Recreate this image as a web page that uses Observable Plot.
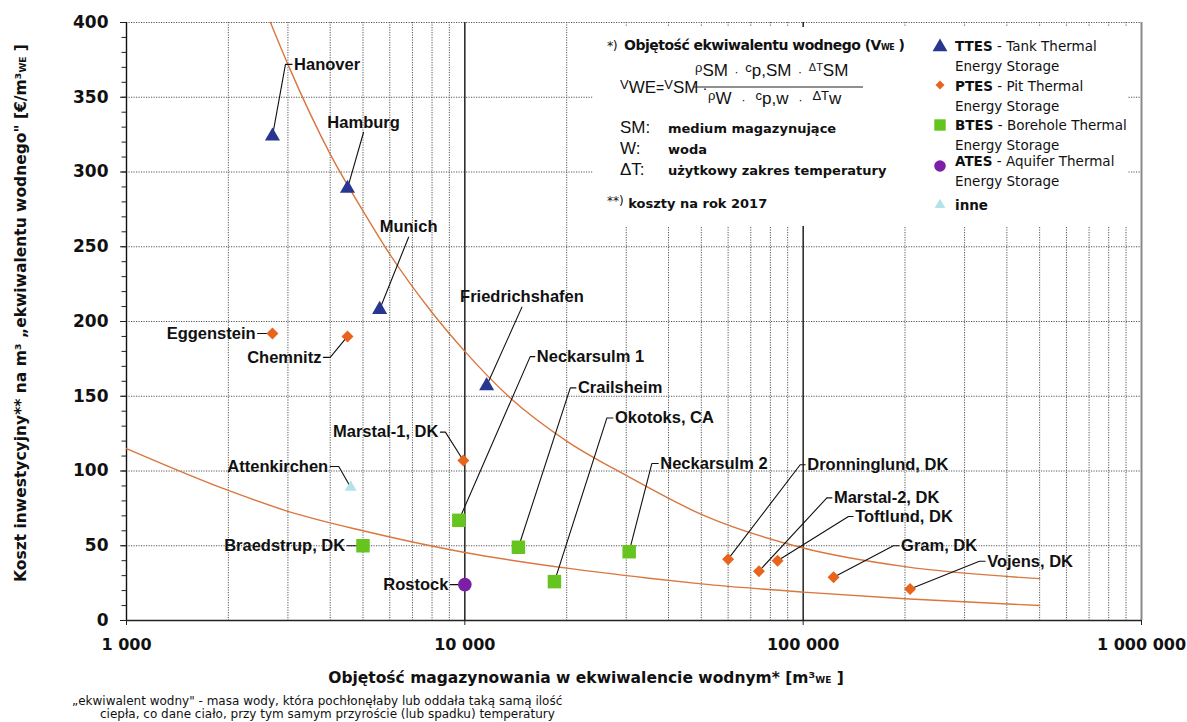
<!DOCTYPE html>
<html>
<head>
<meta charset="utf-8">
<script src="https://cdn.jsdelivr.net/npm/d3@7"></script>
<script src="https://cdn.jsdelivr.net/npm/@observablehq/plot@0.6"></script>
<style>
  body { margin: 0; background: #fff; }
  #chart svg { display: block; }
</style>
</head>
<body>
<div id="chart"></div>
<script>
// Heat-storage projects: storage volume (m³ water equivalent) vs. specific investment cost (€/m³ WE)
const siteNames = ["Hanover", "Hamburg", "Munich", "Friedrichshafen", "Eggenstein", "Chemnitz",
  "Marstal-1, DK", "Attenkirchen", "Neckarsulm 1", "Braedstrup, DK", "Rostock", "Crailsheim",
  "Okotoks, CA", "Neckarsulm 2", "Dronninglund, DK", "Marstal-2, DK", "Toftlund, DK", "Gram, DK", "Vojens, DK"];
const siteTypes = ["TTES", "TTES", "TTES", "TTES", "PTES", "PTES",
  "PTES", "inne", "BTES", "BTES", "ATES", "BTES",
  "BTES", "BTES", "PTES", "PTES", "PTES", "PTES", "PTES"];
const volumes = [2700, 4500, 5600, 11600, 2700, 4500,
  9900, 4600, 9600, 5000, 10000, 14400,
  18400, 30600, 60000, 74000, 84000, 123000, 207000];
const costs = [324, 289, 208, 157, 192, 190,
  107, 89, 67, 50, 24, 49,
  26, 46, 41, 33, 40, 29, 21];

// Cost trend lines (upper and lower bound)
const upperCurveVolumes = [2664, 3000, 4000, 5000, 6000, 8000, 10000, 13600, 20000, 30000, 50000, 100000, 200000, 500000];
const upperCurveCosts   = [400, 372, 312, 274, 245, 206, 180, 149, 120, 97, 71, 48.5, 36, 28];
const lowerCurveVolumes = [1000, 2000, 3000, 5000, 10000, 20000, 35000, 50000, 100000, 200000, 500000];
const lowerCurveCosts   = [115, 87, 73, 60, 45.5, 35, 28.3, 24.5, 19, 14.5, 10];

// Axis ticks
const xTickValues = [1000, 10000, 100000, 1000000];
const yTickValues = [0, 50, 100, 150, 200, 250, 300, 350, 400];

// Where each site's name sits (data coordinates) and how its leader bends
const labelLayout = [
  {name: "Hanover",          elbow: [2950, 372],    at: [3086, 372],    anchor: "start"},
  {name: "Hamburg",          elbow: [5020, 326.6],  at: null,           anchor: "middle"},
  {name: "Munich",           elbow: [6820, 256.4],  at: null,           anchor: "middle"},
  {name: "Friedrichshafen",  elbow: [14750, 209.6], at: null,           anchor: "middle"},
  {name: "Eggenstein",       elbow: null,           at: [2440, 192],    anchor: "end"},
  {name: "Chemnitz",         elbow: [4000, 176],    at: [3820, 176],    anchor: "end"},
  {name: "Marstal-1, DK",    elbow: [8760, 126],    at: [8470, 126],    anchor: "end"},
  {name: "Attenkirchen",     elbow: [4240, 103],    at: [4000, 103],    anchor: "end"},
  {name: "Braedstrup, DK",   elbow: null,           at: [4490, 50],     anchor: "end"},
  {name: "Rostock",          elbow: null,           at: [9060, 24],     anchor: "end"},
  {name: "Neckarsulm 1",     elbow: [15600, 176.5], at: [16100, 176.5], anchor: "start"},
  {name: "Crailsheim",       elbow: [20500, 155.6], at: [21300, 155.6], anchor: "start"},
  {name: "Okotoks, CA",      elbow: [26300, 135.5], at: [27400, 135.5], anchor: "start"},
  {name: "Neckarsulm 2",     elbow: [35700, 105],   at: [37300, 105],   anchor: "start"},
  {name: "Dronninglund, DK", elbow: [98000, 104.2], at: [101400, 104.2], anchor: "start"},
  {name: "Marstal-2, DK",    elbow: [117500, 82],   at: [121600, 82],   anchor: "start"},
  {name: "Toftlund, DK",     elbow: [136100, 69.6], at: [140500, 69.6], anchor: "start"},
  {name: "Gram, DK",         elbow: [184800, 50],   at: [192100, 50],   anchor: "start"},
  {name: "Vojens, DK",       elbow: [331800, 39.6], at: [345000, 39.6], anchor: "start"}
];

const typeStyle = {
  TTES: {symbol: "triangle", r: 5.6, fill: "#27368f"},
  PTES: {symbol: "diamond2", r: 5.4, fill: "#e8641c"},
  BTES: {symbol: "square",   r: 7.6, fill: "#66c41e"},
  ATES: {symbol: "circle",   r: 6.8, fill: "#7a1fa6"},
  inne: {symbol: "triangle", r: 4.4, fill: "#b3e3e6"}
};

const sites = siteNames.map((name, i) => ({name, type: siteTypes[i], volume: volumes[i], cost: costs[i]}));
const siteByName = new Map(sites.map(d => [d.name, d]));
const upperCurve = upperCurveVolumes.map((v, i) => ({volume: v, cost: upperCurveCosts[i]}));
const lowerCurve = lowerCurveVolumes.map((v, i) => ({volume: v, cost: lowerCurveCosts[i]}));

// Leader polylines: site → elbow → label
const leaders = [];
for (const l of labelLayout) {
  const s = siteByName.get(l.name);
  leaders.push({name: l.name, x: s.volume, y: s.cost});
  if (l.elbow) leaders.push({name: l.name, x: l.elbow[0], y: l.elbow[1]});
  if (l.at) leaders.push({name: l.name, x: l.at[0], y: l.at[1]});
}
const labels = labelLayout.map(l => {
  const p = l.at || l.elbow;
  return {name: l.name, x: p[0], y: p[1], anchor: l.anchor};
});

// Log-scale grid lines within each decade
const minorX = [];
for (const decade of [1000, 10000, 100000]) for (let k = 2; k <= 9; k++) minorX.push(decade * k);
const majorInner = [10000, 100000];
const minorY = d3.range(0, 401, 10);
const gridY = [50, 100, 150, 200, 250, 300, 350, 400];

const labelFont = "'Liberation Sans', Arial, sans-serif";
const tickFont = "'DejaVu Sans', sans-serif";
const fmt = d => d3.format(",")(d).replace(/,/g, " ");

const chart = Plot.plot({
  width: 1187,
  height: 722,
  marginLeft: 126,
  marginRight: 46,
  marginTop: 22,
  marginBottom: 102,
  style: {background: "#fff", color: "#111", fontFamily: tickFont},
  x: {type: "log", domain: [1000, 1000000], label: null},
  y: {domain: [0, 400], label: null},
  marks: [
    Plot.ruleY(gridY, {stroke: "#555", strokeWidth: 1, strokeDasharray: "1.2,1.3"}),
    Plot.ruleX(minorX, {stroke: "#555", strokeWidth: 1, strokeDasharray: "1.2,1.3"}),
    Plot.ruleX(majorInner, {stroke: "#111", strokeWidth: 1.4}),
    Plot.ruleX([1000000], {stroke: "#8a8a8a", strokeWidth: 2}),
    Plot.ruleX([1000], {stroke: "#111", strokeWidth: 1.4}),
    Plot.ruleY([0], {stroke: "#222", strokeWidth: 1.6}),
    Plot.line(upperCurve, {x: "volume", y: "cost", stroke: "#d9773f", strokeWidth: 1.4, curve: "monotone-x", clip: true}),
    Plot.line(lowerCurve, {x: "volume", y: "cost", stroke: "#d9773f", strokeWidth: 1.4, curve: "monotone-x", clip: true}),
    Plot.line(leaders, {x: "x", y: "y", z: "name", stroke: "#111", strokeWidth: 1.1, curve: "linear"}),
    ...Object.entries(typeStyle).map(([type, st]) =>
      Plot.dot(sites.filter(d => d.type === type), {x: "volume", y: "cost", symbol: st.symbol, r: st.r, fill: st.fill, stroke: "none"})
    ),
    Plot.text(labels.filter(d => d.anchor === "start"), {x: "x", y: "y", text: "name", textAnchor: "start", dx: 2,
      fontFamily: labelFont, fontWeight: "bold", fontSize: 16.5, fill: "#111"}),
    Plot.text(labels.filter(d => d.anchor === "end"), {x: "x", y: "y", text: "name", textAnchor: "end", dx: -2,
      fontFamily: labelFont, fontWeight: "bold", fontSize: 16.5, fill: "#111"}),
    Plot.text(labels.filter(d => d.anchor === "middle"), {x: "x", y: "y", text: "name", textAnchor: "middle", dy: -10,
      fontFamily: labelFont, fontWeight: "bold", fontSize: 16.5, fill: "#111"}),
    Plot.axisY(minorY, {tickSize: 4.5, tickFormat: () => "", stroke: "#222"}),
    Plot.axisY(yTickValues, {tickSize: 6, tickPadding: 12, tickFormat: d => d, fontSize: 17, fontWeight: "bold",
      fontFamily: tickFont, fill: "#111", stroke: "#222"}),
    Plot.axisX(xTickValues, {tickSize: 5, tickPadding: 13, tickFormat: fmt, fontSize: 16, fontWeight: "bold",
      fontFamily: tickFont, fill: "#111", stroke: "#222"})
  ]
});

document.getElementById("chart").append(chart);

// Annotation layer: definitions box, legend, axis titles and footnote
const svg = d3.select(chart);
const g = svg.append("g").attr("text-anchor", "start");
const gothic = "'DejaVu Sans', sans-serif";
const arial = "'Liberation Sans', Arial, sans-serif";

g.append("rect").attr("x", 593).attr("y", 27).attr("width", 535).attr("height", 199).attr("fill", "#fff");

function rich(x, y, parts, base) {
  const t = g.append("text").attr("x", x).attr("y", y).attr("fill", "#111")
    .attr("text-anchor", "start")
    .attr("font-family", base.family).attr("font-size", base.size);
  for (const p of parts) {
    const s = t.append("tspan").text(p.t);
    if (p.w) s.attr("font-weight", p.w);
    if (p.s) s.attr("font-size", p.s);
    if (p.f) s.attr("font-family", p.f);
    if (p.dy) s.attr("dy", p.dy);
  }
  return t;
}

// Water-equivalent definition
rich(607, 50, [
  {t: "*)  ", s: 12.5},
  {t: "Objętość ekwiwalentu wodnego (V", w: "bold"},
  {t: "WE", w: "bold", s: 8},
  {t: " )", w: "bold"}
], {family: gothic, size: 14}).attr("textLength", 298).attr("lengthAdjust", "spacing");

rich(620, 93, [
  {t: "V", s: 13, dy: -4}, {t: "WE", dy: 4}, {t: "=", s: 14},
  {t: "V", s: 13, dy: -4}, {t: "SM", dy: 4}, {t: " ·", s: 15}
], {family: arial, size: 17});
rich(695, 76, [
  {t: "ρ", s: 13, dy: -4}, {t: "SM", dy: 4}, {t: "  ·  ", s: 12},
  {t: "c", s: 13, dy: -4}, {t: "p,SM", dy: 4}, {t: "  ·  ", s: 12},
  {t: "ΔT", s: 11, dy: -5}, {t: "SM", dy: 5}
], {family: arial, size: 17});
g.append("line").attr("x1", 693).attr("x2", 863).attr("y1", 87).attr("y2", 87)
  .attr("stroke", "#222").attr("stroke-width", 1.2);
rich(708, 104, [
  {t: "ρ", s: 13, dy: -4}, {t: "W", dy: 4}, {t: "   ·   ", s: 12},
  {t: "c", s: 13, dy: -4}, {t: "p,w", dy: 4}, {t: "   ·   ", s: 12},
  {t: "ΔT", s: 13, dy: -4}, {t: "w", dy: 4}
], {family: arial, size: 17});

const defs = [["SM:", "medium magazynujące", 133], ["W:", "woda", 154], ["ΔT:", "użytkowy zakres temperatury", 175]];
for (const [k, v, y] of defs) {
  rich(620, y, [{t: k}], {family: arial, size: 17});
  rich(668, y, [{t: v, w: "bold"}], {family: gothic, size: 13});
}
rich(607, 208, [
  {t: "**)", s: 12, dy: -3},
  {t: " koszty na rok 2017", w: "bold", dy: 3}
], {family: gothic, size: 13});

// Legend
const legendRows = [
  {type: "TTES", text: " - Tank Thermal", y: 46},
  {type: "PTES", text: " - Pit Thermal", y: 86},
  {type: "BTES", text: " - Borehole Thermal", y: 125},
  {type: "ATES", text: " - Aquifer Thermal", y: 161},
  {type: "inne", text: "", y: 205}
];
const legendSym = {
  TTES: [d3.symbolTriangle, 95], PTES: [d3.symbolDiamond2, 52], BTES: [d3.symbolSquare, 130],
  ATES: [d3.symbolCircle, 105], inne: [d3.symbolTriangle, 50]
};
const symY = {TTES: 47, PTES: 85, BTES: 125, ATES: 166, inne: 205};
for (const r of legendRows) {
  const [sym, size] = legendSym[r.type];
  g.append("path").attr("d", d3.symbol(sym, size)()).attr("transform", `translate(940,${symY[r.type]})`)
    .attr("fill", typeStyle[r.type].fill);
  rich(955, r.y + 5, [{t: r.type, w: "bold"}, {t: r.text}], {family: gothic, size: 13.5});
  if (r.text) rich(955, r.y + 25, [{t: "Energy Storage"}], {family: gothic, size: 13.5});
}

// Axis titles
const yTitle = g.append("text").attr("transform", "translate(26,313) rotate(-90)")
  .attr("text-anchor", "middle").attr("font-family", gothic).attr("font-weight", "bold")
  .attr("font-size", 15.5).attr("fill", "#111");
yTitle.append("tspan").text("Koszt inwestycyjny** na m³ „ekwiwalentu wodnego\" [€/m³");
yTitle.append("tspan").attr("font-size", 9).text("WE");
yTitle.append("tspan").text(" ]");

const xTitle = g.append("text").attr("x", 586).attr("y", 683)
  .attr("text-anchor", "middle").attr("font-family", gothic).attr("font-weight", "bold")
  .attr("font-size", 15.5).attr("fill", "#111");
xTitle.append("tspan").text("Objętość magazynowania w ekwiwalencie wodnym* [m³");
xTitle.append("tspan").attr("font-size", 9).text("WE");
xTitle.append("tspan").text(" ]");

// Footnote
rich(72, 705, [{t: "„ekwiwalent wodny\" - masa wody, która pochłonęłaby lub oddała taką samą ilość"}], {family: gothic, size: 12});
rich(100, 718, [{t: "ciepła, co dane ciało, przy tym samym przyroście (lub spadku) temperatury"}], {family: gothic, size: 12});
</script>
</body>
</html>
